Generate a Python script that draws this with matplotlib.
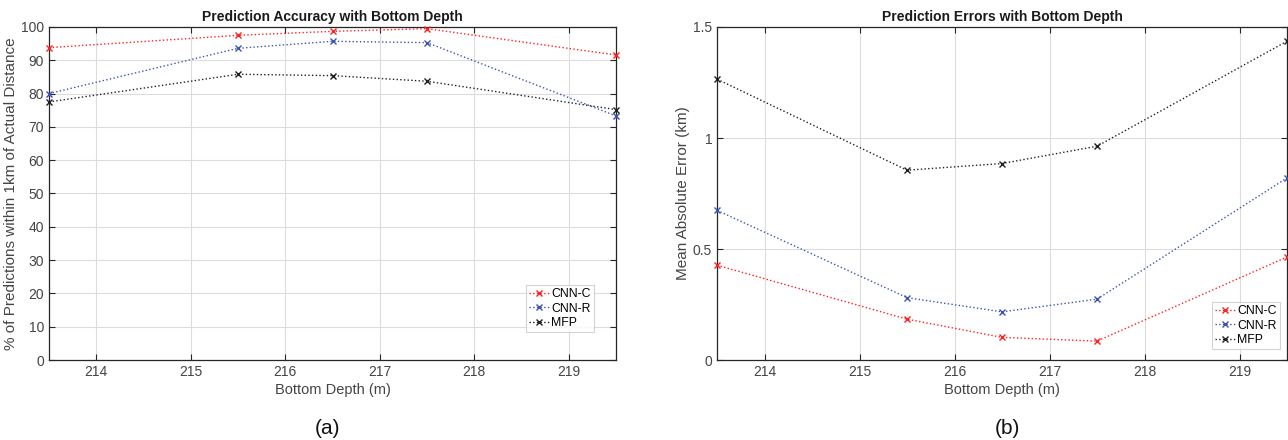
import matplotlib
matplotlib.use("Agg")
import matplotlib.pyplot as plt

depth = [213.5, 215.5, 216.5, 217.5, 219.5]
series_names = ["CNN-C", "CNN-R", "MFP"]
acc_cnn_c = [93.8, 97.5, 98.7, 99.5, 91.6]
acc_cnn_r = [80.0, 93.6, 95.7, 95.3, 73.3]
acc_mfp = [77.5, 85.8, 85.4, 83.7, 75.2]
err_cnn_c = [0.427, 0.184, 0.102, 0.085, 0.464]
err_cnn_r = [0.674, 0.281, 0.217, 0.274, 0.820]
err_mfp = [1.265, 0.855, 0.885, 0.963, 1.436]
xticks = [214, 215, 216, 217, 218, 219]
acc_yticks = list(range(0, 101, 10))
err_yticks = [0, 0.5, 1, 1.5]
err_yticklabels = ["0", "0.5", "1", "1.5"]

colors = ["#ff2020", "#3a55b0", "#202020"]

plt.rcParams['font.family'] = ['Liberation Sans', 'DejaVu Sans']

W, H = 1288, 440
fig = plt.figure(figsize=(W / 100, H / 100), dpi=100)

def make_ax(x0, x1, y0, y1):
    return fig.add_axes([x0 / W, 1 - y1 / H, (x1 - x0) / W, (y1 - y0) / H])

ax1 = make_ax(49, 616, 27, 360)
ax2 = make_ax(717, 1287, 27, 360)

def style(ax, data, yticks, ylim, title, ylabel, leg_anchor, yticklabels=None):
    for vals, c, name in zip(data, colors, series_names):
        ax.plot(depth, vals, linestyle=':', color=c, marker='x', markersize=4,
                markeredgewidth=1.0, linewidth=1.0, label=name, clip_on=False, zorder=3)
    ax.set_xlim(213.5, 219.5)
    ax.set_ylim(*ylim)
    ax.set_xticks(xticks)
    ax.set_yticks(yticks)
    if yticklabels:
        ax.set_yticklabels(yticklabels)
    ax.grid(True, color='#dcdcdc', linewidth=0.8)
    ax.set_axisbelow(True)
    ax.tick_params(direction='in', top=True, right=True, length=4, width=0.8,
                   colors='#262626', labelsize=10, labelcolor='#444444')
    for s in ax.spines.values():
        s.set_color('#262626')
        s.set_linewidth(0.9)
    ax.set_title(title, fontsize=10, fontweight='bold', color='#1a1a1a', pad=4)
    ax.set_xlabel("Bottom Depth (m)", fontsize=10.5, color='#444444', labelpad=3)
    ax.set_ylabel(ylabel, fontsize=11, color='#444444', labelpad=2)
    leg = ax.legend(loc='lower right', fontsize=8.8, frameon=True, fancybox=False,
                    handlelength=1.6, handletextpad=0.2, borderpad=0.25,
                    labelspacing=0.2, borderaxespad=0.0,
                    bbox_to_anchor=(leg_anchor[0] / W, 1 - leg_anchor[1] / H),
                    bbox_transform=fig.transFigure)
    leg.get_frame().set_edgecolor('#c8c8c8')
    leg.get_frame().set_linewidth(0.8)

style(ax1, [acc_cnn_c, acc_cnn_r, acc_mfp], acc_yticks, (0, 100),
      "Prediction Accuracy with Bottom Depth",
      "% of Predictions within 1km of Actual Distance", (594, 332))
style(ax2, [err_cnn_c, err_cnn_r, err_mfp], err_yticks, (0, 1.5),
      "Prediction Errors with Bottom Depth", "Mean Absolute Error (km)",
      (1280, 349), err_yticklabels)

fig.text(328 / W, 1 - 428 / H, "(a)", ha='center', va='center', fontsize=15, color='#111111')
fig.text(1007 / W, 1 - 428 / H, "(b)", ha='center', va='center', fontsize=15, color='#111111')

fig.savefig("out.png", dpi=100)
